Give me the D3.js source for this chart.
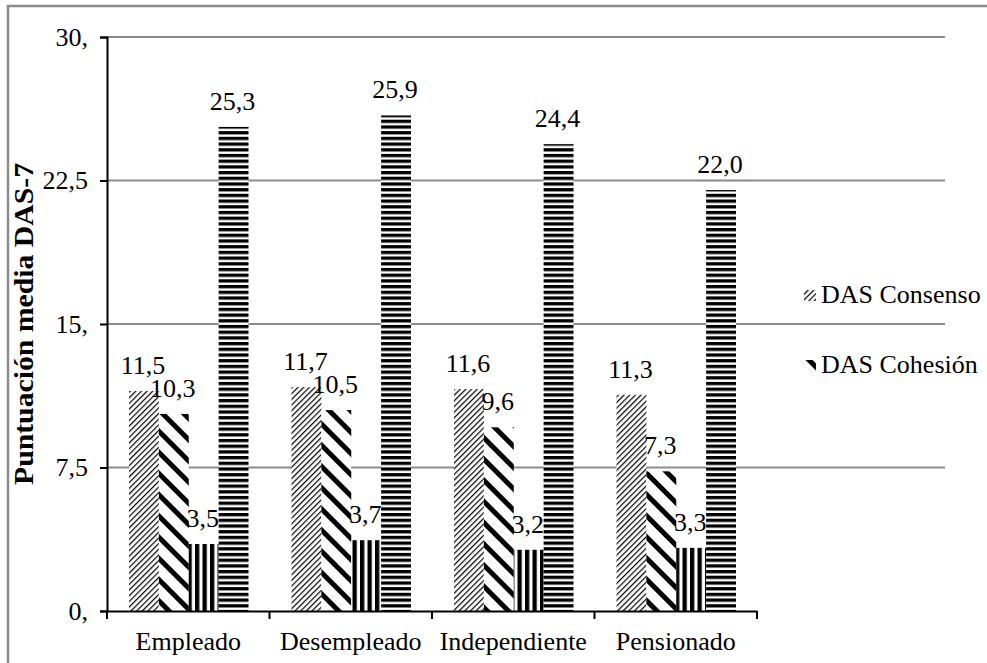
<!DOCTYPE html>
<html>
<head>
<meta charset="utf-8">
<script src="https://cdn.jsdelivr.net/npm/d3@7/dist/d3.min.js"></script>
<style>
  html, body { margin: 0; padding: 0; background: #fff; }
  svg { display: block; }
</style>
</head>
<body>
<svg id="chart" width="987" height="663"></svg>
<script>
// Situación laboral y puntuaciones medias de las subescalas DAS-7
const categories = ["Empleado", "Desempleado", "Independiente", "Pensionado"];
const seriesNames = ["DAS Consenso", "DAS Cohesión", "DAS Satisfacción", "DAS Total"];
const consenso   = [11.5, 11.7, 11.6, 11.3];
const cohesion   = [10.3, 10.5, 9.6, 7.3];
const satisfac   = [3.5, 3.7, 3.2, 3.3];
const total      = [25.3, 25.9, 24.4, 22.0];
const yTicks = [0, 7.5, 15, 22.5, 30];
const yTickLabels = ["0,", "7,5", "15,", "22,5", "30,"];
const legendNames = ["DAS Consenso", "DAS Cohesión"];

const series = [consenso, cohesion, satisfac, total];
const fmt = v => d3.format(".1f")(v).replace(".", ",");

const svg = d3.select("#chart");
const FONT = "26px";
const FAMILY = '"Liberation Serif"';
const styleText = sel => sel.style("font-family", FAMILY).style("font-size", FONT).style("fill", "#000");

// outer frame
svg.append("path")
  .attr("d", "M8,663 V6 H987")
  .attr("fill", "none").attr("stroke", "#8c8c8c").attr("stroke-width", 2.5);

const plot = { left: 107, right: 757, top: 37, bottom: 611, gridRight: 945 };

const x = d3.scaleBand().domain(categories).range([plot.left, plot.right]).paddingInner(0).paddingOuter(0);
const inner = d3.scaleBand().domain(d3.range(4)).range([22, x.bandwidth() - 21]).padding(0);
const y = d3.scaleLinear().domain([0, 30]).range([plot.bottom, plot.top]);

// fill patterns
const defs = svg.append("defs");
function pattern(id, w, h, draw, transform) {
  const p = defs.append("pattern").attr("id", id)
    .attr("patternUnits", "userSpaceOnUse").attr("width", w).attr("height", h);
  if (transform) p.attr("patternTransform", transform);
  p.append("rect").attr("width", w).attr("height", h).attr("fill", "#fff");
  draw(p);
}
// dense light upward diagonal
pattern("pConsenso", 4, 4, p => {
  p.append("rect").attr("x", 0).attr("y", 0).attr("width", 1.2).attr("height", 4).attr("fill", "#000");
}, "rotate(45)");
// wide downward diagonal
pattern("pCohesion", 15, 15, p => {
  p.append("rect").attr("x", 0).attr("y", 0).attr("width", 5).attr("height", 15).attr("fill", "#000");
}, "rotate(-45)");
// vertical stripes
pattern("pSatisf", 7.5, 10, p => {
  p.append("rect").attr("x", 0).attr("y", 0).attr("width", 4.3).attr("height", 10).attr("fill", "#000");
});
// horizontal stripes
pattern("pTotal", 10, 5.7, p => {
  p.append("rect").attr("x", 0).attr("y", 0).attr("width", 10).attr("height", 3.3).attr("fill", "#000");
});
const fills = ["url(#pConsenso)", "url(#pCohesion)", "url(#pSatisf)", "url(#pTotal)"];

// gridlines
svg.append("g").selectAll("line").data(yTicks.filter(d => d > 0)).join("line")
  .attr("x1", plot.left).attr("x2", plot.gridRight)
  .attr("y1", d => y(d)).attr("y2", d => y(d))
  .attr("stroke", "#8c8c8c").attr("stroke-width", 2);

// bars
const barG = svg.append("g");
series.forEach((vals, s) => {
  barG.selectAll(null).data(vals).join("rect")
    .attr("x", (d, i) => x(categories[i]) + inner(s))
    .attr("width", inner.bandwidth())
    .attr("y", d => y(d))
    .attr("height", d => y(0) - y(d))
    .attr("fill", fills[s]);
});

// value labels
const labG = svg.append("g");
series.forEach((vals, s) => {
  labG.selectAll(null).data(vals).join("text")
    .attr("x", (d, i) => x(categories[i]) + inner(s) + inner.bandwidth() / 2 - 1)
    .attr("y", d => y(d) - 17)
    .attr("text-anchor", "middle")
    .text(d => fmt(d))
    .call(styleText);
});

// y axis
const yAxis = d3.axisLeft(y).tickValues(yTicks).tickSize(7).tickPadding(12)
  .tickFormat((d, i) => yTickLabels[i]);
const gy = svg.append("g").attr("transform", `translate(${plot.left},0)`).call(yAxis);
gy.select(".domain").attr("stroke", "#000").attr("stroke-width", 2);
gy.selectAll(".tick line").attr("stroke", "#000").attr("stroke-width", 2);
gy.selectAll(".tick text").call(styleText);

// x axis
const xAxis = d3.axisBottom(x).tickSize(0).tickPadding(21);
const gx = svg.append("g").attr("transform", `translate(0,${plot.bottom})`).call(xAxis);
gx.select(".domain").attr("stroke", "#000").attr("stroke-width", 2);
gx.selectAll(".tick text").call(styleText);
// category separators
const bounds = [plot.left].concat(categories.map(c => x(c) + x.bandwidth()));
gx.append("g").selectAll("line").data(bounds).join("line")
  .attr("x1", d => d).attr("x2", d => d).attr("y1", 0).attr("y2", 8)
  .attr("stroke", "#000").attr("stroke-width", 2);

// y title
svg.append("text")
  .attr("transform", "translate(33,324) rotate(-90)")
  .attr("text-anchor", "middle")
  .attr("textLength", 322).attr("lengthAdjust", "spacingAndGlyphs")
  .text("Puntuación media DAS-7")
  .call(styleText)
  .style("font-size", "27px")
  .style("font-weight", "bold");

// legend (first two entries)
const lg = svg.append("g");
legendNames.forEach((name, i) => {
  const base = 303 + i * 70;
  lg.append("rect").attr("x", 804).attr("y", base - 13).attr("width", 12).attr("height", 11)
    .attr("fill", fills[i]);
  lg.append("text").attr("x", 821).attr("y", base).text(name).call(styleText);
});
</script>
</body>
</html>
